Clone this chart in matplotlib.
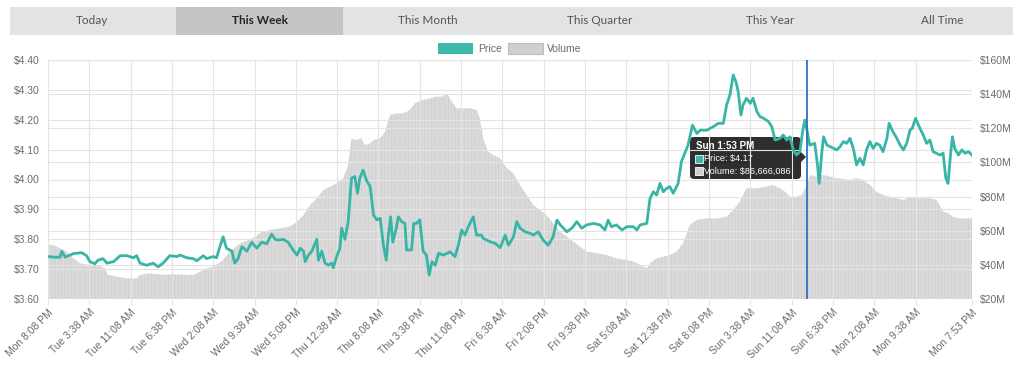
import matplotlib
matplotlib.use("Agg")
import matplotlib.pyplot as plt
from matplotlib.patches import Rectangle, FancyBboxPatch, Polygon

# hours since Mon 8:08 PM
price_hours = [0.0, 1.0, 2.2, 2.5, 3.1, 4.0, 4.6, 6.1, 7.0, 7.6, 8.5, 9.1, 10.0, 10.7, 11.9,
               13.1, 14.3, 15.5, 16.1, 16.7, 17.9, 19.1, 20.0, 20.9, 22.1, 23.4, 24.0, 25.2,
               26.4, 27.0, 28.2, 28.8, 30.0, 30.6, 31.2, 31.8, 32.4, 33.4, 33.9, 34.5, 35.2,
               36.1, 37.0, 37.9, 38.8, 39.7, 40.6, 41.2, 41.8, 42.7, 43.6, 44.5, 45.2, 45.8,
               46.4, 46.7, 47.3, 47.9, 48.8, 49.1, 49.7, 50.3, 50.9, 51.5, 51.8, 52.4, 53.0,
               53.3, 53.9, 54.5, 55.1, 55.7, 56.2, 56.6, 57.2, 57.8, 58.5, 59.1, 59.7, 60.3,
               60.9, 61.4, 61.8, 62.2, 62.6, 63.2, 63.6, 64.2, 64.8, 65.1, 66.0, 66.4, 66.9,
               67.5, 68.1, 68.7, 69.2, 69.7, 70.3, 70.9, 71.8, 73.0, 73.9, 74.5, 75.1, 75.7,
               76.3, 77.2, 77.8, 78.7, 79.0, 80.2, 81.2, 82.1, 83.0, 83.6, 84.5, 85.1, 85.7,
               86.6, 87.5, 88.1, 89.0, 89.9, 90.8, 91.7, 92.4, 93.0, 94.2, 95.1, 96.0, 96.9,
               97.8, 99.0, 100.2, 101.1, 101.7, 102.3, 103.2, 104.2, 105.1, 106.3, 106.9,
               107.5, 108.7, 109.3, 109.9, 110.5, 111.1, 111.7, 112.3, 112.9, 113.5, 114.4,
               115.0, 115.6, 116.2, 117.0, 117.8, 118.4, 119.6, 120.8, 121.7, 122.6, 123.2,
               123.8, 124.4, 124.9, 125.3, 125.8, 126.2, 126.8, 127.5, 128.0, 128.7, 129.3,
               129.9, 130.8, 131.4, 132.0, 132.9, 133.5, 134.1, 134.7, 135.3, 135.9, 136.5,
               137.0, 137.4, 137.75, 138.3, 139.2, 139.7, 140.0, 140.5, 140.8, 141.4, 142.0,
               143.2, 143.8, 144.4, 145.0, 145.6, 146.2, 146.8, 147.4, 148.0, 148.6, 149.2,
               149.8, 150.4, 151.0, 151.6, 152.3, 152.7, 153.4, 154.1, 154.7, 155.3, 155.9,
               156.5, 156.9, 157.5, 158.3, 158.9, 159.5, 160.1, 160.7, 161.3, 161.9, 162.5,
               163.0, 163.4, 163.9, 164.2, 164.6, 165.3, 165.9, 166.5, 167.1, 167.75]
price = [3.742, 3.740, 3.740, 3.760, 3.740, 3.747, 3.752, 3.755, 3.745, 3.725, 3.718, 3.730,
         3.735, 3.720, 3.725, 3.745, 3.745, 3.738, 3.745, 3.720, 3.713, 3.720, 3.708, 3.720,
         3.745, 3.742, 3.747, 3.738, 3.735, 3.728, 3.745, 3.735, 3.742, 3.738, 3.775, 3.808,
         3.770, 3.760, 3.720, 3.735, 3.775, 3.760, 3.790, 3.770, 3.790, 3.785, 3.817, 3.800,
         3.797, 3.800, 3.790, 3.764, 3.747, 3.770, 3.760, 3.725, 3.747, 3.760, 3.800, 3.730,
         3.760, 3.720, 3.713, 3.720, 3.705, 3.742, 3.770, 3.837, 3.800, 3.859, 4.004, 4.010,
         3.954, 4.004, 4.031, 3.998, 3.976, 3.881, 3.865, 3.870, 3.780, 3.730, 3.815, 3.875,
         3.790, 3.835, 3.875, 3.859, 3.853, 3.764, 3.764, 3.853, 3.853, 3.865, 3.760, 3.747,
         3.680, 3.725, 3.713, 3.753, 3.747, 3.758, 3.742, 3.780, 3.831, 3.814, 3.842, 3.875,
         3.814, 3.814, 3.803, 3.792, 3.786, 3.772, 3.814, 3.780, 3.808, 3.859, 3.837, 3.825,
         3.820, 3.814, 3.825, 3.797, 3.780, 3.808, 3.864, 3.848, 3.825, 3.837, 3.859, 3.837,
         3.848, 3.853, 3.848, 3.831, 3.864, 3.842, 3.848, 3.831, 3.842, 3.842, 3.831, 3.848,
         3.853, 3.937, 3.959, 3.948, 3.987, 3.959, 3.970, 3.976, 3.954, 3.987, 4.060, 4.088,
         4.115, 4.182, 4.154, 4.165, 4.165, 4.177, 4.188, 4.188, 4.249, 4.283, 4.350, 4.327,
         4.294, 4.216, 4.250, 4.272, 4.255, 4.272, 4.227, 4.210, 4.205, 4.194, 4.177, 4.132,
         4.138, 4.149, 4.132, 4.143, 4.099, 4.082, 4.093, 4.160, 4.199, 4.170, 4.115, 4.121,
         4.049, 3.987, 4.093, 4.143, 4.115, 4.110, 4.099, 4.110, 4.127, 4.121, 4.138, 4.104,
         4.049, 4.071, 4.049, 4.099, 4.127, 4.104, 4.121, 4.115, 4.093, 4.138, 4.188, 4.160,
         4.138, 4.115, 4.099, 4.121, 4.166, 4.171, 4.205, 4.171, 4.149, 4.121, 4.132, 4.093,
         4.088, 4.082, 4.088, 4.004, 3.987, 4.093, 4.143, 4.104, 4.082, 4.099, 4.088, 4.093,
         4.082]

vol_hours = [0.0, 1.3, 2.2, 3.4, 4.6, 5.8, 7.6, 9.1, 10.3, 10.9, 12.5, 14.3, 16.1, 16.7, 18.5,
             20.9, 22.7, 24.6, 26.4, 27.6, 28.8, 30.0, 31.5, 33.0, 34.9, 36.4, 37.6, 38.8,
             40.3, 42.1, 43.9, 45.2, 46.4, 47.6, 48.8, 50.0, 51.2, 52.4, 53.6, 54.5, 55.1,
             56.0, 56.9, 57.5, 58.5, 59.1, 60.3, 61.2, 62.1, 63.3, 64.5, 65.7, 66.6, 68.1,
             69.4, 70.3, 71.5, 72.4, 73.3, 74.2, 75.4, 76.6, 77.8, 78.4, 79.0, 79.9, 80.8,
             82.1, 83.3, 84.5, 85.7, 86.9, 88.1, 89.3, 90.5, 91.7, 93.0, 94.2, 95.4, 96.6,
             97.8, 99.6, 101.4, 103.2, 105.1, 106.3, 107.5, 108.7, 109.3, 110.5, 111.7,
             112.9, 114.1, 115.3, 116.5, 117.8, 119.6, 121.4, 123.2, 124.4, 125.6, 126.8,
             128.7, 130.4, 131.6, 132.9, 133.8, 134.7, 135.9, 136.8, 137.75, 138.3, 139.5,
             140.7, 142.0, 143.2, 144.4, 145.6, 146.8, 148.0, 149.2, 150.4, 151.6, 152.8,
             154.1, 155.3, 156.5, 157.7, 158.9, 160.1, 161.3, 162.5, 163.4, 164.3, 165.5,
             167.75]
volume_m = [52.0, 51.2, 49.7, 47.7, 43.8, 40.9, 39.9, 39.9, 38.0, 34.1, 33.1, 32.1, 32.1, 34.1,
            35.0, 34.1, 34.5, 34.1, 34.1, 36.0, 38.0, 39.0, 41.9, 47.7, 52.6, 54.5, 56.5, 59.4,
            60.4, 61.4, 62.4, 65.3, 69.2, 75.1, 79.0, 83.8, 85.8, 87.8, 90.7, 98.5, 114.1,
            113.1, 114.1, 110.2, 111.2, 113.1, 114.1, 118.0, 127.8, 128.7, 128.7, 130.7, 134.6,
            136.6, 137.5, 138.5, 138.5, 140.5, 135.6, 131.7, 131.7, 131.7, 130.7, 125.9, 114.1,
            106.3, 104.4, 102.4, 96.6, 93.6, 86.8, 80.9, 75.1, 72.1, 69.2, 64.3, 59.4, 56.5,
            53.6, 50.7, 47.7, 46.8, 45.8, 43.8, 42.8, 41.9, 40.0, 38.0, 40.9, 43.8, 44.8, 45.8,
            47.7, 52.6, 63.3, 66.3, 67.2, 67.2, 68.2, 72.1, 77.0, 84.8, 84.8, 85.8, 86.8, 84.8,
            82.8, 79.9, 79.9, 80.9, 86.67, 92.6, 91.7, 92.6, 91.7, 90.7, 90.3, 89.7, 90.7, 89.7,
            86.8, 82.8, 80.9, 79.9, 79.0, 78.0, 79.9, 79.0, 79.0, 79.0, 78.0, 71.2, 70.2, 68.2,
            67.2, 67.2]

tick_hours = [0, 7.5, 15, 22.5, 30, 37.5, 45, 52.5, 60, 67.5, 75, 82.5, 90, 97.5, 105,
              112.5, 120, 127.5, 135, 142.5, 150, 157.5, 167.75]
tick_labels = ["Mon 8:08 PM", "Tue 3:38 AM", "Tue 11:08 AM", "Tue 6:38 PM", "Wed 2:08 AM",
               "Wed 9:38 AM", "Wed 5:08 PM", "Thu 12:38 AM", "Thu 8:08 AM", "Thu 3:38 PM",
               "Thu 11:08 PM", "Fri 6:38 AM", "Fri 2:08 PM", "Fri 9:38 PM", "Sat 5:08 AM",
               "Sat 12:38 PM", "Sat 8:08 PM", "Sun 3:38 AM", "Sun 11:08 AM", "Sun 6:38 PM",
               "Mon 2:08 AM", "Mon 9:38 AM", "Mon 7:53 PM"]
price_ticks = [3.60, 3.70, 3.80, 3.90, 4.00, 4.10, 4.20, 4.30, 4.40]
volume_ticks = [20, 40, 60, 80, 100, 120, 140, 160]
buttons = ["Today", "This Week", "This Month", "This Quarter", "This Year", "All Time"]
button_x = [92, 260, 428, 600, 770, 942]

hover_hour = 137.75
hover_label = "Sun 1:53 PM"
hover_price = 4.17
hover_volume = 86666086

TEAL = "#38b5a5"
GRID = "#e4e4e4"
TXT = "#6b6b6b"
plt.rcParams['font.family'] = ['Liberation Sans', 'DejaVu Sans']
plt.rcParams['hatch.linewidth'] = 0.35
plt.rcParams['hatch.color'] = '#c9c9c9'

fig = plt.figure(figsize=(10.24, 3.81), dpi=100)
ax = fig.add_axes([48 / 1024, 1 - 299 / 381, 924 / 1024, 239 / 381])
ax2 = ax.twinx()

# volume area (right axis), behind price
ax2.fill_between(vol_hours, 20, volume_m, facecolor='#dadada', edgecolor='#c9c9c9',
                 linewidth=0, hatch='|||||', zorder=1)
ax2.set_ylim(20, 160)
ax2.set_yticks(volume_ticks)
ax2.set_yticklabels(["$%dM" % v for v in volume_ticks])
ax2.set_axisbelow(False)
ax2.grid(axis='y', color=GRID, linewidth=0.8, zorder=2)

ax.set_zorder(ax2.get_zorder() + 1)
ax.patch.set_visible(False)
ax.plot(price_hours, price, color=TEAL, linewidth=2.0, solid_joinstyle='round', zorder=3)
ax.axvline(hover_hour, color='#2a74c0', linewidth=1.3, zorder=4)
ax.set_xlim(0, 167.75)
ax.set_ylim(3.6, 4.4)
ax.set_yticks(price_ticks)
ax.set_yticklabels(["$%.2f" % p for p in price_ticks])
ax.set_xticks(tick_hours)
ax.set_xticklabels(tick_labels, rotation=45, ha='right', rotation_mode='anchor')
ax.grid(color=GRID, linewidth=0.8)

for a in (ax, ax2):
    for s in a.spines.values():
        s.set_visible(False)
ax.tick_params(axis='y', length=0, pad=6, labelsize=7.5, labelcolor=TXT)
ax.tick_params(axis='x', length=4, color=GRID, pad=2, labelsize=7.5, labelcolor=TXT)
ax2.tick_params(axis='y', length=0, pad=6, labelsize=7.5, labelcolor=TXT)

# overlay in pixel coordinates for buttons, legend and tooltip
ov = fig.add_axes([0, 0, 1, 1])
ov.set_xlim(0, 1024)
ov.set_ylim(381, 0)
ov.axis('off')
ov.patch.set_visible(False)

ov.add_patch(Rectangle((10, 7), 1003, 28, facecolor='#e2e3e5', edgecolor='none'))
ov.add_patch(Rectangle((176, 7), 167, 28, facecolor='#c4c5c7', edgecolor='none'))
for name, bx in zip(buttons, button_x):
    sel = name == "This Week"
    ov.text(bx, 21, name, ha='center', va='center', fontsize=8.5, family=['Lato', 'DejaVu Sans'],
            fontweight='bold' if sel else 'normal', color='#222222' if sel else '#555555')

ov.add_patch(Rectangle((438, 43), 35, 11, facecolor='#3cb9aa', edgecolor='none'))
ov.text(478, 48.5, "Price", ha='left', va='center', fontsize=7.5, color=TXT)
ov.add_patch(Rectangle((508, 43), 35, 11, facecolor='#d0d0d0', edgecolor='#bdbdbd', linewidth=0.8))
ov.text(547, 48.5, "Volume", ha='left', va='center', fontsize=7.5, color=TXT)

# tooltip
ov.add_patch(FancyBboxPatch((690, 137), 111, 42, boxstyle="round,pad=0,rounding_size=4",
                            facecolor=(0, 0, 0, 0.82), edgecolor='none'))
ov.add_patch(Polygon([(801, 152), (806, 157), (801, 162)], closed=True,
                     facecolor=(0, 0, 0, 0.82), edgecolor='none'))
ov.text(696, 146, hover_label, ha='left', va='center', fontsize=7, fontweight='bold', color='white')
ov.add_patch(Rectangle((695, 155), 8, 8, facecolor='#3cb9aa', edgecolor='white', linewidth=0.6))
ov.text(704, 159, "Price: $%.2f" % hover_price, ha='left', va='center', fontsize=6.6, color='white')
ov.add_patch(Rectangle((695, 167), 8, 8, facecolor='#d0d0d0', edgecolor='white', linewidth=0.6))
ov.text(704, 171, "Volume: ${:,}".format(hover_volume), ha='left', va='center', fontsize=6.6,
        color='white')

fig.savefig("out.png", dpi=100, facecolor='white')
